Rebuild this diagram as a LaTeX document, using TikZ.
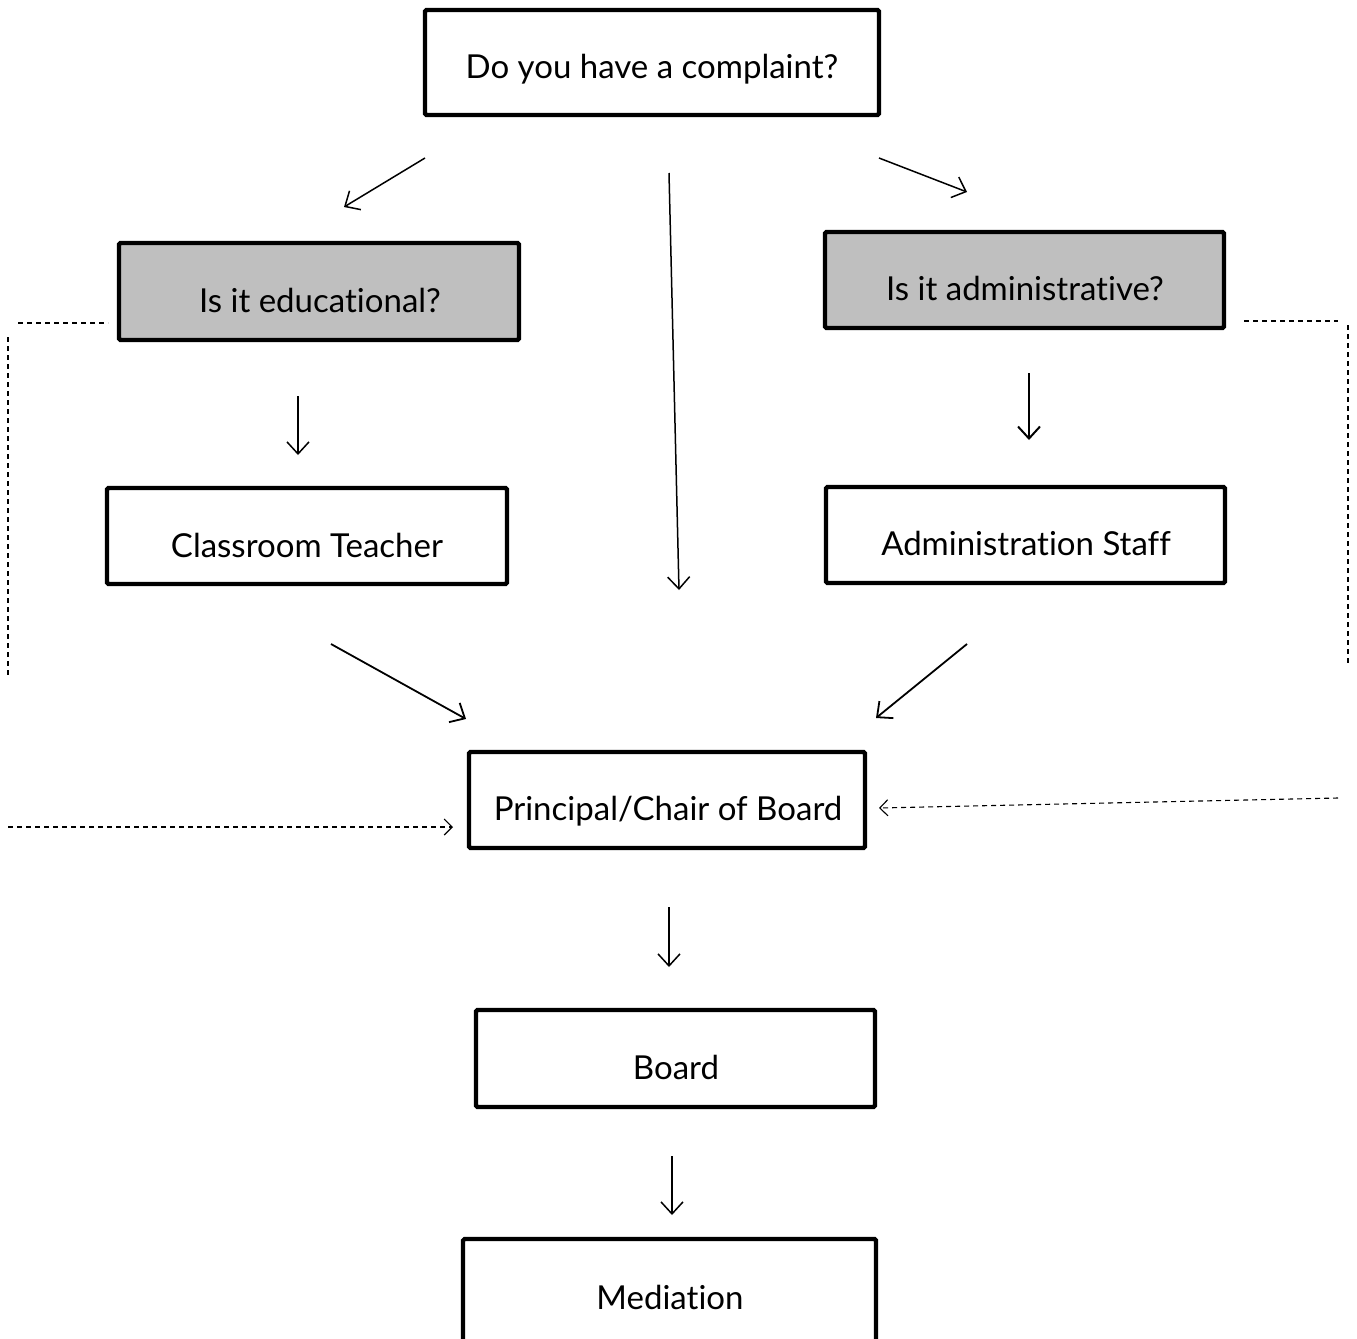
\documentclass[tikz,border=0pt]{standalone}
\usepackage{fontspec}
\setmainfont{Lato}[Ligatures={NoCommon}]
\usetikzlibrary{arrows.meta}
\begin{document}
\begin{tikzpicture}[x=0.5pt,y=-0.5pt,
  boxstyle/.style={draw=black,line width=2.2pt,rounded corners=0.8pt},
  grayfill/.style={fill=black!25},
  lbl/.style={anchor=base,inner sep=0pt,font=\fontsize{16.5}{20}\selectfont},
  arr/.style={line width=0.75pt,-{Straight Barb[length=6pt,width=11pt]}},
  darr/.style={line width=0.55pt,dash pattern=on 2.5pt off 2pt,-{Straight Barb[length=4pt,width=8pt]}},
  dline/.style={line width=0.55pt,dash pattern=on 2.5pt off 2pt}]
\useasboundingbox (0,0) rectangle (1357,1339);
\clip (0,0) rectangle (1357,1339);
% boxes
\draw[boxstyle] (425,10) rectangle (879,115);
\draw[boxstyle,grayfill] (119,243) rectangle (519,340);
\draw[boxstyle,grayfill] (825,232) rectangle (1224,328);
\draw[boxstyle] (107,488) rectangle (507,584);
\draw[boxstyle] (826,487) rectangle (1225,583);
\draw[boxstyle] (469,752) rectangle (865,848);
\draw[boxstyle] (476,1010) rectangle (875,1107);
\draw[boxstyle] (463,1239) rectangle (876,1360);
% labels
\node[lbl] (q) at (652,78) {Do you have a complaint?};
\node[lbl] (edu) at (320,312) {Is it educational?};
\node[lbl] (adm) at (1025,300) {Is it administrative?};
\node[lbl] (teacher) at (307,557) {Classroom Teacher};
\node[lbl] (staff) at (1026,555) {Administration Staff};
\node[lbl] (prin) at (668,820) {Principal/Chair of Board};
\node[lbl] (board) at (676,1079) {Board};
\node[lbl] (med) at (670,1309) {Mediation};
% arrow endpoints
\coordinate (a1s) at (425,158); \coordinate (a1e) at (344,207);
\coordinate (a2s) at (669,173); \coordinate (a2e) at (679,590);
\coordinate (a3s) at (879,158); \coordinate (a3e) at (967,192);
\coordinate (a4s) at (298,396); \coordinate (a4e) at (298,455);
\coordinate (a5s) at (1029,373); \coordinate (a5e) at (1029,440);
\coordinate (a6s) at (331,644); \coordinate (a6e) at (466,719);
\coordinate (a7s) at (967,644); \coordinate (a7e) at (876,718);
\coordinate (a8s) at (669,907); \coordinate (a8e) at (669,967);
\coordinate (a9s) at (672,1156); \coordinate (a9e) at (672,1215);
\draw[arr] (a1s) -- (a1e);
\draw[arr] (a2s) -- (a2e);
\draw[arr] (a3s) -- (a3e);
\draw[arr] (a4s) -- (a4e);
\draw[arr,line width=1pt] (a5s) -- (a5e);
\draw[arr,line width=0.9pt] (a6s) -- (a6e);
\draw[arr,line width=0.9pt] (a7s) -- (a7e);
\draw[arr] (a8s) -- (a8e);
\draw[arr] (a9s) -- (a9e);
% dashed
\coordinate (dl1) at (18,323); \coordinate (dl2) at (108,323);
\coordinate (dl3) at (8,337); \coordinate (dl4) at (8,678);
\coordinate (dl5) at (8,827); \coordinate (dl6) at (453,827);
\coordinate (dr1) at (1244,321); \coordinate (dr2) at (1338,321);
\coordinate (dr3) at (1348,325); \coordinate (dr4) at (1348,665);
\coordinate (dr5) at (1338,798); \coordinate (dr6) at (879,808);
\draw[dline] (dl1) -- (dl2);
\draw[dline] (dl3) -- (dl4);
\draw[darr] (dl5) -- (dl6);
\draw[dline] (dr1) -- (dr2);
\draw[dline] (dr3) -- (dr4);
\draw[darr] (dr5) -- (dr6);
\end{tikzpicture}
\end{document}
